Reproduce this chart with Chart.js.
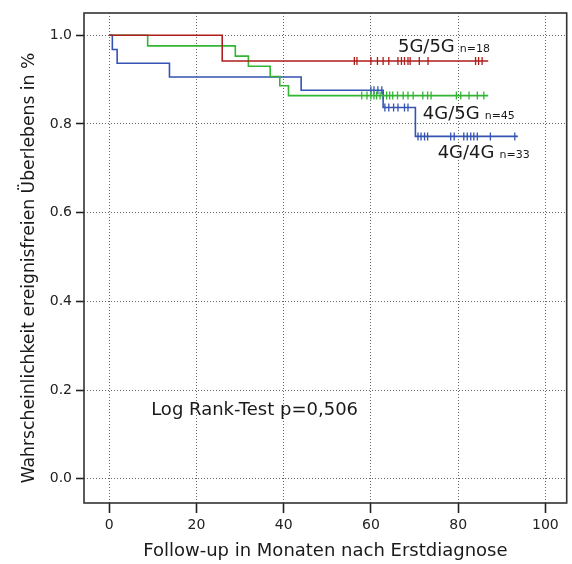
<!DOCTYPE html>
<html><head><meta charset="utf-8">
<script src="https://cdn.jsdelivr.net/npm/chart.js@4.4.1/dist/chart.umd.min.js"></script>
<style>html,body{margin:0;padding:0;background:#fff}#wrap{width:572px;height:564px;position:relative}</style>
</head><body><div id="wrap"><canvas id="c" width="572" height="564"></canvas></div>
<script>
// ---- data ----
const xTicks = [0, 20, 40, 60, 80, 100];
const xTickLabels = ['0', '20', '40', '60', '80', '100'];
const yTicks = [0, 0.2, 0.4, 0.6, 0.8, 1.0];
const yTickLabels = ['0.0', '0.2', '0.4', '0.6', '0.8', '1.0'];
const groupNames = ['5G/5G', '4G/5G', '4G/4G'];
const groupN = ['n=18', 'n=45', 'n=33'];
// step (event) times and survival after each step, last entry = end of follow-up
const times55 = [0, 25.9, 86.9];
const surv55  = [1, 0.942, 0.942];
const cens55  = [56.2, 56.8, 60.0, 61.5, 62.8, 64.1, 66.2, 67.0, 67.7, 68.5, 69.0, 71.1, 73.1, 84.0, 84.7, 85.5];
const times45 = [0, 8.8, 28.9, 31.9, 36.9, 39.1, 41.1, 86.9];
const surv45  = [1, 0.976, 0.953, 0.930, 0.907, 0.886, 0.864, 0.864];
const cens45  = [57.9, 59.1, 60.0, 60.7, 61.3, 62.1, 62.8, 63.6, 64.3, 65.0, 66.1, 67.4, 68.5, 69.7, 71.9, 73.0, 73.8, 79.6, 80.6, 82.5, 84.4, 85.9];
const times44 = [0, 0.7, 1.8, 13.8, 44.0, 62.8, 70.2, 93.7];
const surv44  = [1, 0.968, 0.937, 0.906, 0.876, 0.837, 0.772, 0.772];
const cens44  = [60.0, 60.7, 61.6, 62.5, 63.2, 64.1, 65.2, 66.2, 67.7, 68.5, 70.8, 71.5, 72.3, 73.0, 78.3, 79.1, 81.3, 82.1, 82.9, 83.6, 84.4, 87.4, 93.0];
// label anchors (data coordinates)
const labelX = [66.2, 71.9, 75.3];
const labelY = [0.962, 0.812, 0.723];
const logRankText = 'Log Rank-Test p=0,506';
const logRankX = 9.6, logRankY = 0.144;
const xTitle = 'Follow-up in Monaten nach Erstdiagnose';
const yTitle = 'Wahrscheinlichkeit ereignisfreien Überlebens in %';

const colors = ['#b01c1c', '#33b533', '#3553b2'];

function stepAt(times, surv, t) {
  let v = surv[0];
  for (let i = 0; i < times.length; i++) { if (times[i] <= t) v = surv[i]; }
  return v;
}
function curve(times, surv) { return times.map((t, i) => ({x: t, y: surv[i]})); }
function marks(times, surv, cens) { return cens.map(t => ({x: t, y: stepAt(times, surv, t)})); }

const series = [[times55, surv55, cens55], [times45, surv45, cens45], [times44, surv44, cens44]];
const datasets = [];
series.forEach((s, i) => {
  datasets.push({type: 'line', data: curve(s[0], s[1]), borderColor: colors[i], borderWidth: 1.6,
    stepped: 'before', pointRadius: 0, fill: false});
});
series.forEach((s, i) => {
  datasets.push({type: 'scatter', data: marks(s[0], s[1], s[2]), borderColor: colors[i], backgroundColor: colors[i],
    pointStyle: 'line', rotation: 90, pointRadius: 4, borderWidth: 1.3, pointHoverRadius: 4});
});

const FONT = '"DejaVu Sans", sans-serif';
const annot = {
  id: 'annot',
  afterDraw(chart) {
    const ctx = chart.ctx, xs = chart.scales.x, ys = chart.scales.y, a = chart.chartArea;
    ctx.save();
    // box
    ctx.strokeStyle = '#333'; ctx.lineWidth = 1.6;
    ctx.strokeRect(a.left, a.top, a.right - a.left, a.bottom - a.top);
    ctx.fillStyle = '#1a1a1a';
    ctx.textBaseline = 'alphabetic'; ctx.textAlign = 'left';
    // group labels
    groupNames.forEach((g, i) => {
      const px = xs.getPixelForValue(labelX[i]), py = ys.getPixelForValue(labelY[i]);
      ctx.font = '18px ' + FONT;
      ctx.fillText(g, px, py);
      const w = ctx.measureText(g).width;
      ctx.font = '11px ' + FONT;
      ctx.fillText(groupN[i], px + w + 5, py);
    });
    // log rank
    ctx.font = '18px ' + FONT;
    ctx.fillText(logRankText, xs.getPixelForValue(logRankX), ys.getPixelForValue(logRankY));
    // axis titles
    ctx.textAlign = 'center'; ctx.textBaseline = 'middle';
    ctx.font = '18px ' + FONT;
    ctx.fillText(xTitle, (a.left + a.right) / 2, 551);
    ctx.translate(30, 268); ctx.rotate(-Math.PI / 2);
    ctx.font = '17.2px ' + FONT;
    ctx.fillText(yTitle, 0, 0);
    ctx.restore();
  }
};

Chart.defaults.font.family = FONT;
new Chart(document.getElementById('c'), {
  type: 'line',
  data: {datasets},
  plugins: [annot],
  options: {
    responsive: false, animation: false,
    layout: {padding: {top: 13, right: 0, left: 0, bottom: 0}},
    plugins: {legend: {display: false}, tooltip: {enabled: false}},
    scales: {
      x: {type: 'linear', min: -5.8, max: 104.9,
        afterBuildTicks: s => { s.ticks = xTicks.map(v => ({value: v})); },
        afterFit: s => { s.height = 61; s.paddingRight = 0; },
        ticks: {callback: (v) => xTickLabels[xTicks.indexOf(v)], color: '#222', font: {size: 14}, padding: 4, maxRotation: 0, autoSkip: false},
        grid: {color: '#666', lineWidth: 1, tickColor: '#222', tickWidth: 1.6, tickLength: 10, tickBorderDash: []},
        border: {display: false, dash: [1, 2]}
      },
      y: {type: 'linear', min: -0.0547, max: 1.0502,
        afterBuildTicks: s => { s.ticks = yTicks.map(v => ({value: v})); },
        afterFit: s => { s.width = 84; },
        ticks: {callback: (v) => yTickLabels[yTicks.findIndex(t => Math.abs(t - v) < 1e-9)], color: '#222', font: {size: 14}, padding: 4, autoSkip: false},
        grid: {color: '#666', lineWidth: 1, tickColor: '#222', tickWidth: 1.6, tickLength: 8, tickBorderDash: []},
        border: {display: false, dash: [1, 2]}
      }
    }
  }
});
</script></body></html>
